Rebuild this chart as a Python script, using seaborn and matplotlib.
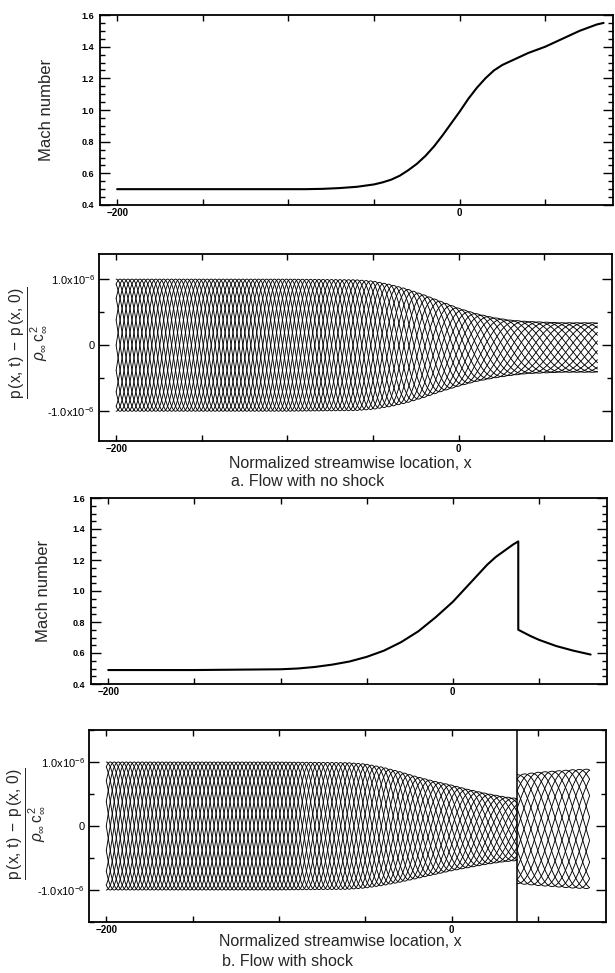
import numpy as np
import pandas as pd
import matplotlib
matplotlib.use('Agg')
import matplotlib.pyplot as plt
import seaborn as sns
from matplotlib.ticker import MultipleLocator

# ---- data ----
# a. flow with no shock : Mach number
mach_a_x = [-200, -150, -100, -90, -80, -70, -60, -50, -45, -40, -35, -30, -25, -20, -15, -10, -5,
            0, 5, 10, 15, 20, 25, 30, 35, 40, 50, 60, 70, 80, 84]
mach_a_m = [0.50, 0.50, 0.50, 0.50, 0.502, 0.507, 0.515, 0.53, 0.543, 0.56, 0.585, 0.62, 0.66, 0.71, 0.77, 0.84, 0.915,
            0.99, 1.07, 1.14, 1.20, 1.25, 1.285, 1.31, 1.335, 1.36, 1.40, 1.45, 1.50, 1.54, 1.55]

# a. pressure perturbation envelope (units of 1e-6)
env_a_x = [-200, -100, -60, -50, -40, -30, -20, -10, 0, 10, 20, 30, 40, 50, 60, 70, 81]
env_a_up = [1.0, 1.0, 0.99, 0.97, 0.92, 0.85, 0.76, 0.66, 0.56, 0.48, 0.42, 0.38, 0.36, 0.35, 0.34, 0.34, 0.34]
env_a_lo = [-1.0, -1.0, -0.99, -0.97, -0.93, -0.87, -0.79, -0.70, -0.62, -0.55, -0.50, -0.46, -0.43, -0.42, -0.41, -0.41, -0.41]
wave_a_x = [-200, -100, -50, 0, 40, 81]
wave_a_len = [37, 37, 42, 56, 68, 72]

# b. flow with shock : Mach number
mach_b_x = [-200, -150, -100, -90, -80, -70, -60, -50, -40, -30, -20, -10, 0, 5, 10, 15, 20, 25, 30, 35, 38,
            38, 45, 50, 60, 70, 80]
mach_b_m = [0.49, 0.49, 0.495, 0.50, 0.51, 0.525, 0.545, 0.575, 0.615, 0.67, 0.74, 0.83, 0.93, 0.99, 1.05, 1.11, 1.17, 1.22, 1.26, 1.30, 1.32,
            0.75, 0.71, 0.685, 0.645, 0.615, 0.59]

shock_x = 38

# b. pressure envelope upstream / downstream of the shock
env_b1_x = [-200, -100, -60, -50, -40, -30, -20, -10, 0, 10, 20, 30, 38]
env_b1_up = [1.0, 1.0, 0.99, 0.97, 0.92, 0.85, 0.77, 0.70, 0.64, 0.57, 0.51, 0.46, 0.43]
env_b1_lo = [-1.0, -1.0, -0.99, -0.97, -0.93, -0.88, -0.82, -0.76, -0.70, -0.65, -0.60, -0.56, -0.54]
wave_b1_x = [-200, -100, -50, 0, 38]
wave_b1_len = [37, 37, 42, 50, 56]

env_b2_x = [38, 50, 60, 70, 80]
env_b2_up = [0.80, 0.84, 0.86, 0.88, 0.89]
env_b2_lo = [-0.90, -0.93, -0.95, -0.97, -0.98]
wave_b2_x = [38, 80]
wave_b2_len = [64, 64]

n_snap = 16


def snapshots(ex, up, lo, wx, wl, seg=0):
    # family of time snapshots inside the read envelope
    x = np.linspace(ex[0], ex[-1], 3000)
    u = np.interp(x, ex, up)
    l = np.interp(x, ex, lo)
    lam = np.interp(x, wx, wl)
    theta = 2 * np.pi * np.concatenate([[0], np.cumsum(np.diff(x) / lam[1:])])
    mid = (u + l) / 2
    amp = (u - l) / 2
    rows = []
    for j in range(n_snap):
        y = mid + amp * np.cos(theta - 2 * np.pi * j / n_snap)
        rows.append(pd.DataFrame({'x': x, 'p': y * 1e-6, 'snap': f'{seg}-{j}'}))
    return pd.concat(rows)


sns.set_style('ticks')
plt.rcParams['font.family'] = ['Liberation Sans', 'DejaVu Sans']
plt.rcParams['mathtext.fontset'] = 'custom'
plt.rcParams['mathtext.rm'] = 'Liberation Sans'
plt.rcParams['mathtext.it'] = 'Liberation Sans:italic'

W, H = 615, 973
fig = plt.figure(figsize=(W / 100, H / 100), dpi=100)


def add_ax(l, t, r, b):
    return fig.add_axes([l / W, 1 - b / H, (r - l) / W, (b - t) / H])


def style(ax, ymin, ylen):
    ax.set_xlim(-210, 89.5)
    ax.set_xticks([-200, 0])
    ax.set_xticklabels(['\u2212200', '0'], fontsize=7, fontweight='bold')
    ax.xaxis.set_minor_locator(MultipleLocator(50))
    ax.yaxis.set_minor_locator(MultipleLocator(ymin))
    ax.tick_params(which='both', direction='in', top=True, right=True, width=1, colors='black')
    ax.tick_params(axis='x', which='both', length=4, pad=2)
    ax.tick_params(axis='y', which='major', length=ylen, pad=4)
    ax.tick_params(axis='y', which='minor', length=ylen / 2)
    for s in ax.spines.values():
        s.set_linewidth(1.3)
        s.set_color('black')
    ax.set_xlabel('')
    ax.set_ylabel('')


def mach_axes(ax):
    ax.set_ylim(0.4, 1.6)
    ax.set_yticks([0.4, 0.6, 0.8, 1.0, 1.2, 1.4, 1.6])
    ax.set_yticklabels(['0.4', '0.6', '0.8', '1.0', '1.2', '1.4', '1.6'], fontsize=6.5, fontweight='bold')
    style(ax, 0.05, 7)


def press_axes(ax, lim):
    ax.set_ylim(*lim)
    ax.set_yticks([-1e-6, 0, 1e-6])
    ax.set_yticklabels([r'-1.0x10$^{-6}$', '0', r'1.0x10$^{-6}$'], fontsize=8)
    style(ax, 0.5e-6, 7)
    ax.tick_params(axis='y', which='major', pad=3)
    ax.yaxis.get_offset_text().set_visible(False)


plabel = r'$\frac{\mathrm{p\,(x,\,t)\;-\;p\,(x,\,0)}}{\rho_{\infty}\,\mathrm{c}_{\infty}^{\,2}}$'

# ---- a. flow with no shock ----
ax1 = add_ax(100, 15, 613, 205)
sns.lineplot(x=mach_a_x, y=mach_a_m, ax=ax1, color='black', lw=1.5, sort=False, estimator=None)
mach_axes(ax1)
fig.text(47 / W, 1 - 110 / H, 'Mach number', rotation=90, ha='center', va='center', fontsize=12)

ax2 = add_ax(99, 254, 612, 441)
df_a = snapshots(env_a_x, env_a_up, env_a_lo, wave_a_x, wave_a_len)
sns.lineplot(data=df_a, x='x', y='p', units='snap', estimator=None, sort=False,
             color='black', lw=0.65, ax=ax2)
press_axes(ax2, (-1.45e-6, 1.38e-6))
fig.text(29 / W, 1 - 343 / H, plabel, rotation=90, ha='center', va='center', fontsize=16)
fig.text(350 / W, 1 - 463 / H, 'Normalized streamwise location, x', ha='center', va='center', fontsize=11.5)
fig.text(308 / W, 1 - 482 / H, 'a. Flow with no shock', ha='center', va='center', fontsize=11.5)

# ---- b. flow with shock ----
ax3 = add_ax(91, 498, 607, 684)
sns.lineplot(x=mach_b_x, y=mach_b_m, ax=ax3, color='black', lw=1.5, sort=False, estimator=None)
mach_axes(ax3)
fig.text(43 / W, 1 - 591 / H, 'Mach number', rotation=90, ha='center', va='center', fontsize=12)

ax4 = add_ax(89, 730, 606, 922)
df_b = pd.concat([snapshots(env_b1_x, env_b1_up, env_b1_lo, wave_b1_x, wave_b1_len, 1),
                  snapshots(env_b2_x, env_b2_up, env_b2_lo, wave_b2_x, wave_b2_len, 2)])
sns.lineplot(data=df_b, x='x', y='p', units='snap', estimator=None, sort=False,
             color='black', lw=0.65, ax=ax4)
ax4.axvline(shock_x, color='black', lw=1.1)
press_axes(ax4, (-1.5e-6, 1.5e-6))
fig.text(27 / W, 1 - 824 / H, plabel, rotation=90, ha='center', va='center', fontsize=16)
fig.text(340 / W, 1 - 942 / H, 'Normalized streamwise location, x', ha='center', va='center', fontsize=11.5)
fig.text(288 / W, 1 - 961 / H, 'b. Flow with shock', ha='center', va='center', fontsize=11.5)

fig.savefig('out.png', dpi=100)
